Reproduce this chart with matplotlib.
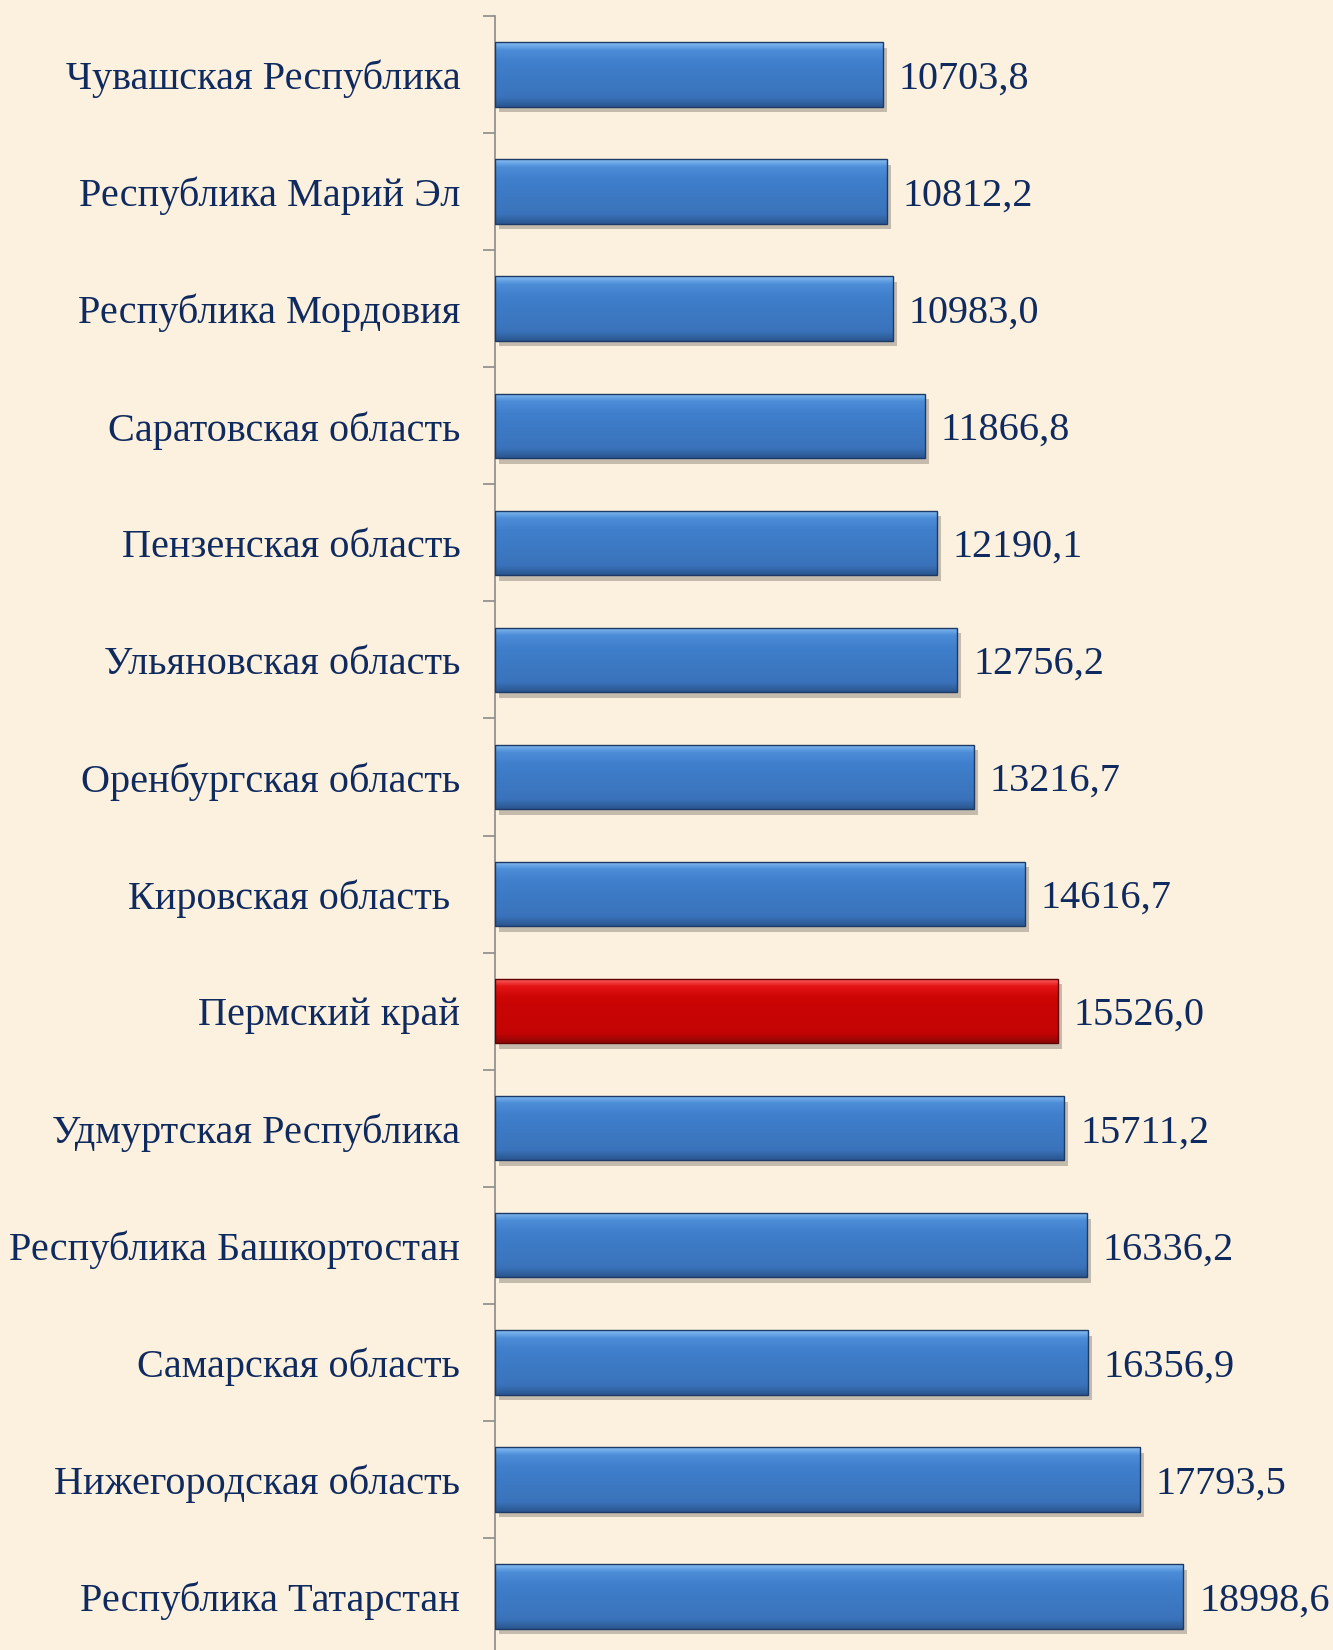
import numpy as np
from matplotlib import pyplot as plt
from matplotlib import patheffects as pe
from matplotlib.colors import LinearSegmentedColormap

regions = ['Чувашская Республика', 'Республика Марий Эл', 'Республика Мордовия',
           'Саратовская область', 'Пензенская область', 'Ульяновская область',
           'Оренбургская область', 'Кировская область ', 'Пермский край',
           'Удмуртская Республика', 'Республика Башкортостан', 'Самарская область',
           'Нижегородская область', 'Республика Татарстан']
values = [10703.8, 10812.2, 10983.0, 11866.8, 12190.1, 12756.2, 13216.7,
          14616.7, 15526.0, 15711.2, 16336.2, 16356.9, 17793.5, 18998.6]
highlight = 'Пермский край'

bg = '#fcf0de'
text_color = '#0f2a5f'
font = ['Liberation Serif', 'DejaVu Serif']

stops = {
    'blue': ['#86bdf2', '#4d8dd8', '#3f7fcc', '#3a73bb', '#2b5690'],
    'red': ['#ff6a6a', '#e41414', '#cc0505', '#c40404', '#8e0606'],
}
edges = {'blue': '#1d3a66', 'red': '#600000'}


def draw_bar(ax, y, v, h, kind):
    # shadow underneath
    shadow = ax.barh(y, v, height=h, color=bg, linewidth=0, zorder=2)[0]
    shadow.set_path_effects([pe.SimplePatchShadow(offset=(3, -4), shadow_rgbFace='#000000', alpha=0.22)])
    bar = ax.barh(y, v, height=h, color='none', edgecolor=edges[kind],
                  linewidth=1.0, zorder=3)[0]
    s = stops[kind]
    cmap = LinearSegmentedColormap.from_list(kind, [(0, s[0]), (0.12, s[1]), (0.3, s[2]),
                                                    (0.85, s[3]), (1, s[4])])
    grad = np.linspace(0, 1, 100).reshape(-1, 1)
    im = ax.imshow(grad, cmap=cmap, aspect='auto', extent=(0, v, y + h / 2, y - h / 2),
                   zorder=2.5, interpolation='bicubic')
    im.set_clip_path(bar)


fig = plt.figure(figsize=(13.33, 16.5), dpi=100, facecolor=bg)
ax = fig.add_axes([495 / 1333, -5 / 1650, 1 - 495 / 1333, 1639 / 1650])
ax.set_facecolor(bg)

n = len(regions)
ys = np.arange(n)
for y, name, v in zip(ys, regions, values):
    kind = 'red' if name == highlight else 'blue'
    draw_bar(ax, y, v, 0.55, kind)
    label = f'{v:.1f}'.replace('.', ',')
    ax.text(v + 440, y, label, va='center_baseline', ha='left', fontsize=29,
            color=text_color, family=font)

ax.set_xlim(0, 23130)
ax.set_ylim(n - 0.5, -0.5)
ax.set_yticks(ys)
ax.set_yticklabels(regions, fontsize=29, color=text_color, family=font,
                   va='center_baseline')
ax.set_yticks(np.arange(n + 1) - 0.5, minor=True)
ax.tick_params(axis='y', which='major', length=0, pad=25)
ax.tick_params(axis='y', which='minor', length=9, color='#8c8c8c', width=1.2)
ax.set_xticks([])
for s in ['top', 'right', 'bottom']:
    ax.spines[s].set_visible(False)
ax.spines['left'].set_color('#8c8c8c')
ax.spines['left'].set_linewidth(1.2)

fig.savefig('out.png', dpi=100, facecolor=bg)
